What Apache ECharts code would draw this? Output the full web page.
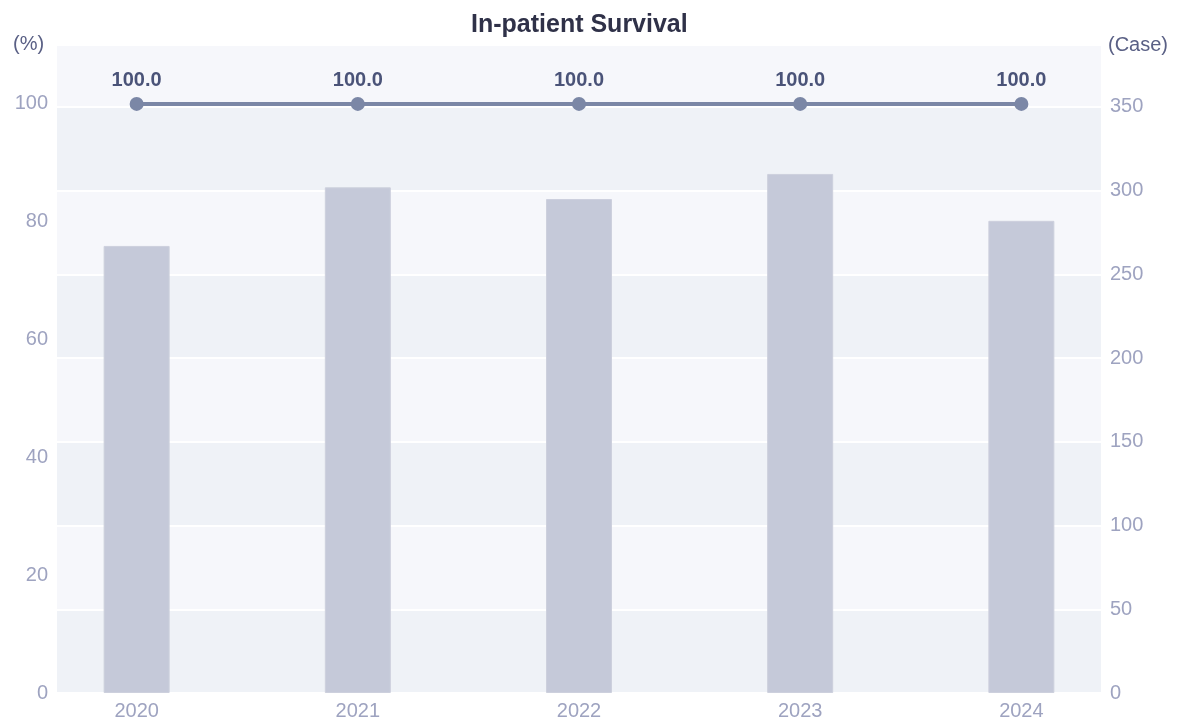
<!DOCTYPE html>
<html>
<head>
<meta charset="utf-8">
<script src="https://cdn.jsdelivr.net/npm/echarts@6/dist/echarts.min.js"></script>
<style>
html,body{margin:0;padding:0;background:#fff;}
#chart{width:1181px;height:722px;}
</style>
</head>
<body>
<div id="chart"></div>
<script>
const categories = ['2020', '2021', '2022', '2023', '2024'];
const survivalRate = [100.0, 100.0, 100.0, 100.0, 100.0];
const caseCounts = [267, 302, 295, 310, 282];
const titleText = 'In-patient Survival';
const leftAxisName = '(%)';
const rightAxisName = '(Case)';

const FONT = '"Liberation Sans", Arial, Helvetica, sans-serif';
const idx = categories.map((c, i) => i);

const chart = echarts.init(document.getElementById('chart'), null, {renderer: 'canvas'});
chart.setOption({
  animation: false,
  backgroundColor: '#ffffff',
  textStyle: {fontFamily: FONT},
  title: {
    text: titleText,
    left: 466,
    top: 8,
    textStyle: {fontFamily: FONT, fontSize: 25, fontWeight: 'bold', color: '#2f3148'}
  },
  graphic: [
    {
      type: 'text',
      left: 13,
      top: 34,
      style: {text: leftAxisName, fill: '#5a6085', fontSize: 20, fontFamily: FONT}
    }
  ],
  grid: {left: 57, right: 80, top: 45, bottom: 29, containLabel: false},
  xAxis: {
    type: 'value',
    min: -0.36,
    max: 4.36,
    axisLine: {show: false},
    axisTick: {show: false},
    splitLine: {show: false},
    axisLabel: {
      customValues: idx,
      formatter: v => categories[Math.round(v)] || '',
      color: '#9ea3c0',
      fontSize: 20,
      fontFamily: FONT,
      margin: 8
    }
  },
  yAxis: [
    {
      type: 'value',
      position: 'left',
      min: 0,
      max: 110,
      interval: 20,
      axisLine: {show: false},
      axisTick: {show: false},
      splitLine: {show: false},
      axisLabel: {color: '#9ea3c0', fontSize: 20, fontFamily: FONT, margin: 9, showMaxLabel: false, padding: [4, 0, 0, 0]}
    },
    {
      type: 'value',
      position: 'right',
      min: 0,
      max: 387,
      interval: 50,
      name: rightAxisName,
      nameLocation: 'end',
      nameGap: 0,
      nameTextStyle: {color: '#5a6085', fontSize: 20, fontFamily: FONT, align: 'left', verticalAlign: 'middle', padding: [0, 0, 0, 7]},
      axisLine: {show: false},
      axisTick: {show: false},
      splitLine: {show: true, lineStyle: {color: '#ffffff', width: 2}},
      splitArea: {show: true, areaStyle: {color: ['#eff2f7', '#f6f7fb']}},
      axisLabel: {color: '#9ea3c0', fontSize: 20, fontFamily: FONT, margin: 9, showMaxLabel: false, padding: [4, 0, 0, 0]}
    }
  ],
  series: [
    {
      name: 'Cases',
      type: 'bar',
      yAxisIndex: 1,
      barWidth: 66,
      itemStyle: {color: '#c5c9d9', borderColor: '#cdd0dd', borderWidth: 1},
      data: caseCounts.map((v, i) => [idx[i], v]),
      z: 2
    },
    {
      name: 'Survival',
      type: 'line',
      yAxisIndex: 0,
      symbol: 'circle',
      symbolSize: 14,
      lineStyle: {color: '#7b87a6', width: 4},
      itemStyle: {color: '#7b87a6'},
      label: {
        show: true,
        position: 'top',
        distance: 6,
        formatter: p => p.value[1].toFixed(1),
        color: '#4a5378',
        fontSize: 20,
        fontWeight: 'bold',
        fontFamily: FONT
      },
      data: survivalRate.map((v, i) => [idx[i], v]),
      z: 3
    }
  ]
});
</script>
</body>
</html>
